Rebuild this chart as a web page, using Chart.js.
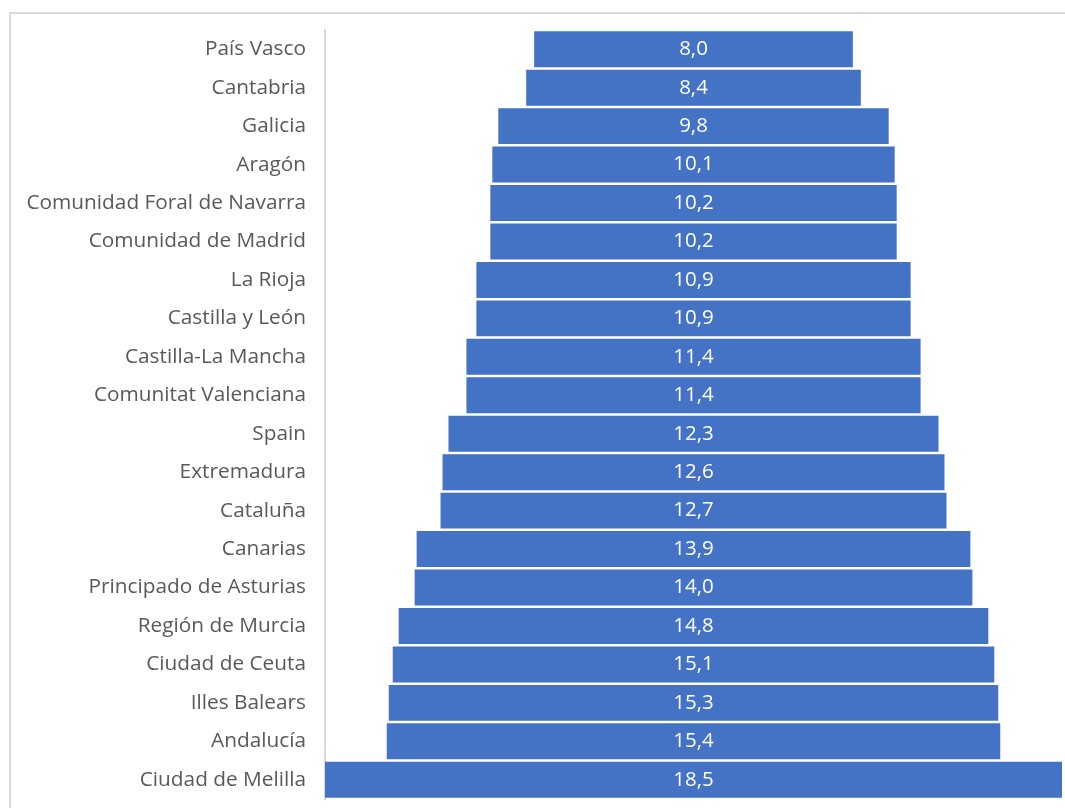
<!DOCTYPE html>
<html>
<head>
<meta charset="utf-8">
<script src="https://cdn.jsdelivr.net/npm/chart.js@4"></script>
<style>
    body { margin: 0; background: #fff; overflow: hidden; }
    #wrap { position: relative; width: 1065px; height: 808px; }
    #frame { position: absolute; left: 9px; top: 12px; width: 1100px; height: 900px;
             border-top: 2px solid #d9d9d9; border-left: 2px solid #d9d9d9; }
    canvas { position: absolute; left: 0; top: 0; }
</style>
</head>
<body>
<div id="wrap">
    <div id="frame"></div>
    <canvas id="chart" width="1065" height="808"></canvas>
</div>
<script>
// Regions, top to bottom
const regions = [
    'País Vasco', 'Cantabria', 'Galicia', 'Aragón', 'Comunidad Foral de Navarra',
    'Comunidad de Madrid', 'La Rioja', 'Castilla y León', 'Castilla-La Mancha',
    'Comunitat Valenciana', 'Spain', 'Extremadura', 'Cataluña', 'Canarias',
    'Principado de Asturias', 'Región de Murcia', 'Ciudad de Ceuta', 'Illes Balears',
    'Andalucía', 'Ciudad de Melilla'
];
const values = [8.0, 8.4, 9.8, 10.1, 10.2, 10.2, 10.9, 10.9, 11.4, 11.4,
                12.3, 12.6, 12.7, 13.9, 14.0, 14.8, 15.1, 15.3, 15.4, 18.5];

const fontFamily = '"Open Sans", "Noto Sans", sans-serif';
const maxHalf = Math.max(...values) / 2;

// Centered (funnel) bars
const spans = values.map(v => [-v / 2, v / 2]);

// Draw value labels in the middle of each bar
const valueLabels = {
    id: 'valueLabels',
    afterDatasetsDraw(chart) {
        const ctx = chart.ctx;
        const meta = chart.getDatasetMeta(0);
        const cx = chart.scales.x.getPixelForValue(0);
        ctx.save();
        ctx.fillStyle = '#ffffff';
        ctx.font = '20.5px ' + fontFamily;
        ctx.textAlign = 'center';
        ctx.textBaseline = 'middle';
        meta.data.forEach((bar, i) => {
            ctx.fillText(values[i].toFixed(1).replace('.', ','), cx, bar.y);
        });
        ctx.restore();
    }
};

new Chart(document.getElementById('chart'), {
    type: 'bar',
    data: {
        labels: regions,
        datasets: [{
            data: spans,
            backgroundColor: '#4472c4',
            borderWidth: 0,
            barPercentage: 0.936,
            categoryPercentage: 1
        }]
    },
    options: {
        indexAxis: 'y',
        responsive: false,
        animation: false,
        layout: { padding: { top: 30, bottom: 9, left: 0, right: 3 } },
        plugins: {
            legend: { display: false },
            tooltip: { enabled: false }
        },
        scales: {
            x: {
                display: false,
                min: -maxHalf,
                max: maxHalf
            },
            y: {
                afterFit(scale) {
                    scale.width = 325;
                    // don't let label padding shrink the plot
                    scale.paddingTop = 0;
                    scale.paddingBottom = 0;
                },
                grid: { display: false, drawTicks: false },
                border: { display: true, color: '#d9d9d9', width: 2 },
                ticks: {
                    padding: 19,
                    color: '#595959',
                    font: { family: fontFamily, size: 20.8 }
                }
            }
        }
    },
    plugins: [valueLabels]
});
</script>
</body>
</html>
